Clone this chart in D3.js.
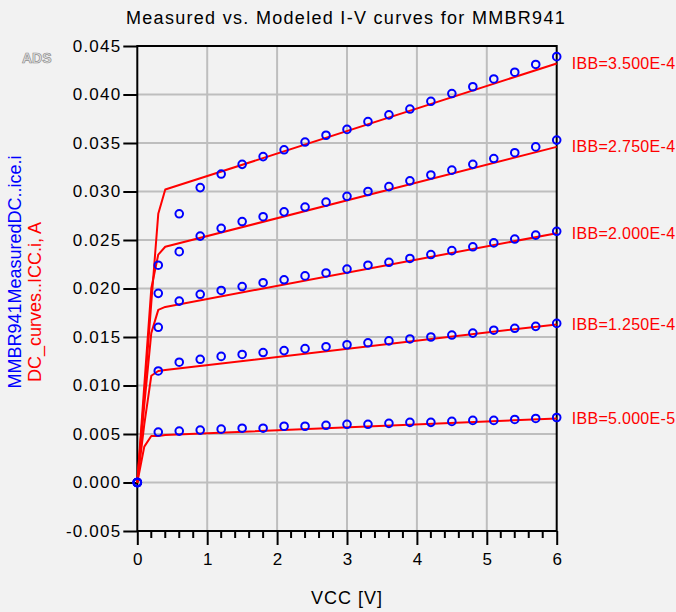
<!DOCTYPE html>
<html><head><meta charset="utf-8">
<script src="https://cdn.jsdelivr.net/npm/d3@7"></script>
<style>
html,body{margin:0;padding:0;background:#f2f2f2;}
svg{display:block;font-family:"Liberation Sans",Arial,sans-serif;}
</style></head>
<body>
<svg id="chart" width="676" height="612"></svg>
<script>
// ---- data ----
const measV = [0,0.3,0.6,0.9,1.2,1.5,1.8,2.1,2.4,2.7,3.0,3.3,3.6,3.9,4.2,4.5,4.8,5.1,5.4,5.7,6.0];
const meas5e5  = [0,0.0052,0.0053,0.0054,0.0055,0.0056,0.0056,0.0058,0.0058,0.0059,0.0060,0.0060,0.0061,0.0062,0.0062,0.0063,0.0064,0.0064,0.0065,0.0066,0.0067];
const meas125  = [0,0.0115,0.0124,0.0127,0.0130,0.0132,0.0134,0.0136,0.0138,0.0140,0.0142,0.0144,0.0146,0.0148,0.0150,0.0152,0.0154,0.0157,0.0159,0.0161,0.0164];
const meas200  = [0,0.0160,0.0187,0.0194,0.0198,0.0202,0.0206,0.0209,0.0213,0.0216,0.0220,0.0224,0.0227,0.0231,0.0235,0.0239,0.0243,0.0247,0.0251,0.0255,0.0259];
const meas275  = [0,0.0195,0.0238,0.0254,0.0262,0.0269,0.0274,0.0279,0.0284,0.0289,0.0295,0.0300,0.0305,0.0311,0.0317,0.0322,0.0328,0.0334,0.0340,0.0346,0.0353];
const meas350  = [0,0.0224,0.0277,0.0304,0.0318,0.0328,0.0336,0.0343,0.0351,0.0358,0.0364,0.0372,0.0379,0.0385,0.0393,0.0401,0.0408,0.0416,0.0423,0.0431,0.0439];

const modelV = [0,0.1,0.2,0.3,0.4,6.0];
const model5e5 = [0,0.0037,0.0048,0.0048,0.0049,0.0066];
const model125 = [0,0.0060,0.0110,0.0115,0.0116,0.0163];
const model200 = [0,0.0080,0.0154,0.0178,0.0181,0.0257];
const model275 = [0,0.0100,0.0200,0.0235,0.0243,0.0346];
const model350 = [0,0.0090,0.0185,0.0277,0.0302,0.0432];

const seriesLabels = ["IBB=5.000E-5","IBB=1.250E-4","IBB=2.000E-4","IBB=2.750E-4","IBB=3.500E-4"];
const xTicks = [0,1,2,3,4,5,6];
const yTicks = [-0.005,0,0.005,0.010,0.015,0.020,0.025,0.030,0.035,0.040,0.045];

const measured = [meas5e5,meas125,meas200,meas275,meas350];
const models = [model5e5,model125,model200,model275,model350];

// ---- chart ----
const svg = d3.select("#chart");
const L=137.3, R=556.7, T=46, B=531;
const x = d3.scaleLinear().domain([0,6]).range([L,R]);
const y = d3.scaleLinear().domain([-0.005,0.045]).range([B,T]);

// grid
const grid = svg.append("g").attr("stroke","#bebebe").attr("stroke-width",2);
grid.selectAll("line.v").data(xTicks.slice(1,-1)).join("line")
  .attr("x1",d=>x(d)).attr("x2",d=>x(d)).attr("y1",T).attr("y2",B);
grid.selectAll("line.h").data(yTicks.slice(1,-1)).join("line")
  .attr("x1",L).attr("x2",R).attr("y1",d=>y(d)).attr("y2",d=>y(d));

// frame
svg.append("rect").attr("x",L).attr("y",T).attr("width",R-L).attr("height",B-T)
  .attr("fill","none").attr("stroke","#000").attr("stroke-width",2);

// axes
const xAxis = d3.axisBottom(x).tickValues(xTicks).tickSize(14).tickFormat(d3.format("d"));
const gx = svg.append("g").attr("transform",`translate(0,${B})`).call(xAxis);
const minor = d3.range(0,6.0001,0.2).filter(v=>Math.abs(v-Math.round(v))>1e-6);
gx.selectAll("line.minor").data(minor).join("line").attr("class","minor")
  .attr("x1",d=>x(d)).attr("x2",d=>x(d)).attr("y1",0).attr("y2",7)
  .attr("stroke","#000").attr("stroke-width",2);
gx.select(".domain").remove();
gx.selectAll(".tick line").attr("stroke","#000").attr("stroke-width",2);
gx.selectAll(".tick text").attr("font-size",17).attr("fill","#000").attr("y",22)
  .attr("font-family","Liberation Sans, Arial, sans-serif").attr("dy","0.71em");

const fmtY = v => d3.format(".3f")(v).replace("\u2212","-");
const yAxis = d3.axisLeft(y).tickValues(yTicks).tickSize(14).tickFormat(fmtY);
const gy = svg.append("g").attr("transform",`translate(${L},0)`).call(yAxis);
gy.select(".domain").remove();
gy.selectAll(".tick line").attr("stroke","#000").attr("stroke-width",2);
gy.selectAll(".tick text").attr("font-size",17).attr("fill","#000").attr("x",-16)
  .attr("letter-spacing","1.2px")
  .attr("font-family","Liberation Sans, Arial, sans-serif");

// model lines
const line = d3.line().x((d,i)=>x(modelV[i])).y(d=>y(d));
svg.append("g").selectAll("path").data(models).join("path")
  .attr("d",d=>line(d)).attr("fill","none").attr("stroke","#ff0000")
  .attr("stroke-width",2).attr("stroke-linejoin","round");

// measured points
const pts = svg.append("g");
measured.forEach(s=>{
  pts.selectAll(null).data(s).join("circle")
    .attr("cx",(d,i)=>x(measV[i])).attr("cy",d=>y(d)).attr("r",3.8)
    .attr("fill","none").attr("stroke","#0000ff").attr("stroke-width",2);
});

// series labels
svg.append("g").selectAll("text").data(models).join("text")
  .attr("x",R+15).attr("y",d=>y(d[d.length-1])).attr("dy","0.35em")
  .attr("font-size",16).attr("fill","#ff0000").attr("letter-spacing","0.3px")
  .text((d,i)=>seriesLabels[i]);

// title
svg.append("text").attr("x",346).attr("y",24).attr("text-anchor","middle")
  .attr("font-size",18).attr("letter-spacing","1.3px").attr("fill","#000")
  .text("Measured vs. Modeled I-V curves for MMBR941");

// x title
svg.append("text").attr("x",347).attr("y",604).attr("text-anchor","middle")
  .attr("font-size",18).attr("letter-spacing","1px").attr("fill","#000")
  .text("VCC [V]");

// y titles
svg.append("text").attr("transform","translate(21,272) rotate(-90)").attr("text-anchor","middle")
  .attr("font-size",18).attr("fill","#0000ff").text("MMBR941MeasuredDC..ice.i");
svg.append("text").attr("transform","translate(41,302) rotate(-90)").attr("text-anchor","middle")
  .attr("font-size",18).attr("fill","#ff0000").text("DC_curves..ICC.i, A");

// ADS logo
svg.append("text").attr("x",22).attr("y",63).attr("font-size",14).attr("font-weight","bold")
  .attr("fill","#e6e6e6").attr("stroke","#8c8c8c").attr("stroke-width",0.7)
  .text("ADS");
</script>
</body></html>
